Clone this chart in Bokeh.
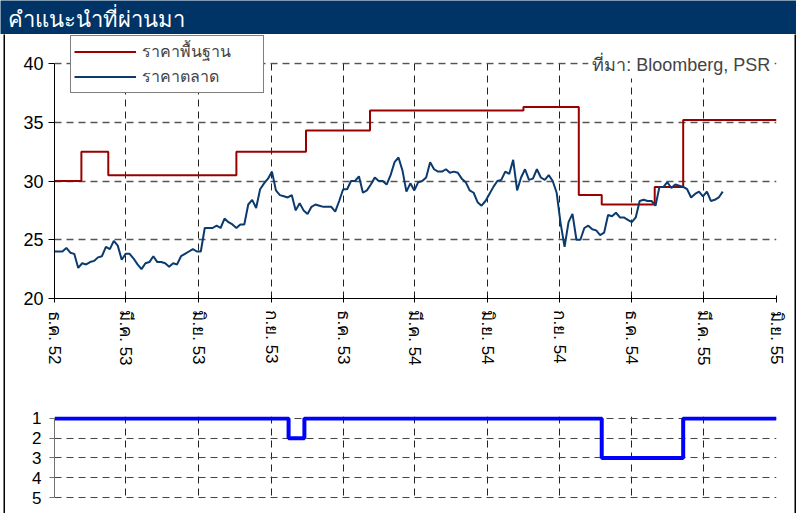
import math
import pandas as pd
from bokeh.plotting import figure
from bokeh.layouts import column, row
from bokeh.models import Range1d, FixedTicker, Legend, LegendItem, Label, BoxAnnotation
from bokeh.embed import file_html
from bokeh.resources import INLINE

# ---------------- data ----------------
title_text = "คำแนะนำที่ผ่านมา"
source_text = "ที่มา: Bloomberg, PSR"

tick_dates = ["2009-12-01", "2010-03-01", "2010-06-01", "2010-09-01", "2010-12-01",
              "2011-03-01", "2011-06-01", "2011-09-01", "2011-12-01", "2012-03-01",
              "2012-06-01"]
tick_labels = ["ธ.ค. 52", "มี.ค. 53", "มิ.ย. 53", "ก.ย. 53", "ธ.ค. 53",
               "มี.ค. 54", "มิ.ย. 54", "ก.ย. 54", "ธ.ค. 54", "มี.ค. 55",
               "มิ.ย. 55"]
price_ticks = [20, 25, 30, 35, 40]
rating_ticks = [1, 2, 3, 4, 5]

base_label = "ราคาพื้นฐาน"
base_dates = ["2009-12-01", "2010-01-04", "2010-02-07", "2010-07-19", "2010-10-15",
              "2011-01-04", "2011-07-17", "2011-09-25", "2011-10-24", "2011-12-30",
              "2012-02-04", "2012-06-01"]
base_values = [30.0, 32.5, 30.5, 32.5, 34.3, 36.0, 36.3, 28.8, 28.0, 29.5, 35.2, 35.2]

market_label = "ราคาตลาด"
market_start = "2009-12-01"
market_values = [
    24.0, 24.0, 24.0, 24.3, 23.9, 23.8, 22.6, 23.0, 22.9, 23.1,
    23.2, 23.5, 23.6, 24.4, 24.2, 24.9, 24.5, 23.3, 23.8, 23.8,
    23.4, 22.9, 22.5, 23.0, 23.1, 23.6, 23.1, 23.1, 23.0, 22.7,
    23.0, 22.9, 23.6, 23.8, 24.0, 24.2, 24.0, 24.0, 26.0, 26.0,
    26.0, 26.2, 26.0, 26.8, 26.5, 26.3, 26.0, 26.3, 26.3, 28.0,
    28.4, 27.7, 29.3, 29.8, 30.2, 30.8, 29.2, 28.8, 28.7, 28.6,
    28.8, 27.5, 28.1, 27.5, 27.2, 27.8, 28.0, 27.9, 27.8, 27.8,
    27.8, 27.4, 28.3, 29.3, 29.3, 30.0, 30.0, 30.4, 29.0, 29.2,
    29.7, 30.3, 30.0, 30.0, 29.7, 30.5, 31.6, 32.0, 30.9, 29.1,
    29.8, 29.2, 29.9, 30.0, 30.3, 31.6, 31.0, 30.8, 30.8, 31.0,
    30.7, 30.8, 30.7, 30.2, 29.9, 29.2, 29.0, 28.2, 27.9, 28.3,
    28.9, 29.5, 30.0, 30.1, 30.8, 30.6, 31.8, 29.2, 30.3, 31.0,
    30.1, 30.2, 31.0, 30.3, 30.1, 30.5, 30.0, 29.0, 26.4, 24.4,
    26.5, 27.2, 25.0, 25.0, 26.0, 26.2, 25.9, 25.8, 25.4, 25.6,
    27.1, 27.0, 27.3, 26.9, 26.9, 26.7, 26.5, 26.9, 28.3, 28.4,
    28.3, 28.3, 27.9, 29.5, 29.5, 29.9, 29.4, 29.7, 29.6, 29.5,
    29.3, 28.6, 28.9, 29.1, 28.7, 29.1, 28.3, 28.4, 28.6, 29.1,
]

rating_dates = ["2009-12-01", "2010-09-23", "2010-10-13", "2011-10-24", "2012-02-04",
                "2012-06-01"]
rating_values = [1, 2, 1, 3, 1, 1]

# ---------------- styles ----------------
NAVY = "#003366"
RED = "#990000"
BLUE = "#0B3A6E"
FONT = "Liberation Sans"
Y_TOP = 42.47   # frame extends above 40 so the legend/source text are not clipped

tick_ms = [int(pd.Timestamp(d).value // 10**6) for d in tick_dates]
x_start = pd.Timestamp(tick_dates[0])
x_end = pd.Timestamp(tick_dates[-1])


def blank(w, h, color):
    f = figure(width=w, height=h, x_range=Range1d(0, w), y_range=Range1d(0, h),
               output_backend="svg", toolbar_location=None, min_border=0,
               x_axis_location=None, y_axis_location=None)
    f.background_fill_color = color
    f.border_fill_color = color
    f.outline_line_color = None
    f.grid.visible = False
    return f


# header
header = blank(796, 34, NAVY)
header.add_layout(Label(x=7, y=15, text=title_text, text_color="white",
                        text_font=FONT, text_font_size="22px", text_baseline="middle"))

# ---------------- main chart ----------------
p = figure(width=789, height=356, x_axis_type="datetime",
           x_range=Range1d(x_start, x_end), y_range=Range1d(20, Y_TOP),
           output_backend="svg", toolbar_location=None,
           min_border_left=49, min_border_right=18, min_border_top=0,
           min_border_bottom=92)
p.outline_line_color = None
p.background_fill_color = "white"
p.border_fill_color = "white"

xt = FixedTicker(ticks=tick_ms)
p.xaxis.ticker = xt
p.xgrid.ticker = xt
p.xaxis.major_label_overrides = dict(zip(tick_ms, tick_labels))
p.xaxis.major_label_orientation = -math.pi / 2
p.xaxis.major_tick_in = 3
p.xaxis.major_tick_out = 4
p.xaxis.minor_tick_line_color = None
p.xaxis.axis_line_color = "black"
p.xaxis.major_tick_line_color = "black"
p.xaxis.major_label_text_font = FONT
p.xaxis.major_label_text_font_size = "17px"
p.xaxis.major_label_text_color = "black"
p.xaxis.major_label_standoff = 8

yt = FixedTicker(ticks=price_ticks)
p.yaxis.ticker = yt
p.ygrid.ticker = yt
p.yaxis.bounds = (20, 40)
p.yaxis.major_tick_in = 0
p.yaxis.major_tick_out = 6
p.yaxis.minor_tick_line_color = None
p.yaxis.axis_line_color = "black"
p.yaxis.major_tick_line_color = "black"
p.yaxis.major_label_text_font = FONT
p.yaxis.major_label_text_font_size = "18px"
p.yaxis.major_label_text_color = "black"
p.yaxis.major_label_standoff = 5

p.xgrid.grid_line_color = "#222222"
p.xgrid.grid_line_dash = "7 5"
p.xgrid.grid_line_width = 1
p.ygrid.grid_line_color = "#555555"
p.ygrid.grid_line_dash = "7 5"
p.ygrid.grid_line_width = 1.3

# white band hiding the grid above the 40 line
p.add_layout(BoxAnnotation(bottom=40.1, fill_color="white", fill_alpha=1,
                           line_color=None))

# step shape of the base-price series, built from its change dates
bx, by = [], []
for i in range(len(base_values) - 1):
    bx += [pd.Timestamp(base_dates[i]), pd.Timestamp(base_dates[i + 1])]
    by += [base_values[i], base_values[i]]
bx.append(pd.Timestamp(base_dates[-1]))
by.append(base_values[-1])
r_base = p.line(x=bx, y=by, line_color=RED, line_width=2)

market_dates = pd.date_range(market_start, periods=len(market_values), freq="5D")
r_market = p.line(x=market_dates, y=market_values, line_color=BLUE, line_width=2)

legend = Legend(items=[LegendItem(label=base_label, renderers=[r_base]),
                       LegendItem(label=market_label, renderers=[r_market])],
                location=(16, 205), orientation="vertical",
                border_line_color="black", border_line_width=1,
                background_fill_color="white", background_fill_alpha=1,
                padding=3, spacing=0, margin=0,
                glyph_width=62, glyph_height=15, label_height=15,
                label_width=118, label_standoff=6, label_text_font=FONT,
                label_text_font_size="16px")
p.add_layout(legend)

src_x = int(pd.Timestamp("2011-10-07").value // 10**6)
p.add_layout(Label(x=src_x, y=39.91, text=source_text, text_font=FONT,
                   text_font_size="18px", text_baseline="middle",
                   background_fill_color="white", padding=4))

# ---------------- rating chart ----------------
q = figure(width=789, height=123, x_axis_type="datetime",
           x_range=Range1d(x_start, x_end), y_range=Range1d(5.05, 0.9),
           output_backend="svg", toolbar_location=None,
           min_border_left=47, min_border_right=15, min_border_top=26,
           min_border_bottom=15)
q.outline_line_color = None
q.background_fill_color = "white"
q.border_fill_color = "white"
q.xaxis.visible = False
q.xgrid.ticker = FixedTicker(ticks=tick_ms)
q.xgrid.grid_line_color = "#222222"
q.xgrid.grid_line_dash = "7 5"
rt = FixedTicker(ticks=rating_ticks)
q.yaxis.ticker = rt
q.ygrid.ticker = rt
q.yaxis.bounds = (1, 5)
q.yaxis.axis_line_color = "#707070"
q.yaxis.major_tick_line_color = "#707070"
q.yaxis.major_tick_in = 0
q.yaxis.major_tick_out = 5
q.yaxis.minor_tick_line_color = None
q.yaxis.major_label_text_font = FONT
q.yaxis.major_label_text_font_size = "17px"
q.yaxis.major_label_text_color = "black"
q.yaxis.major_label_standoff = 8
q.ygrid.grid_line_color = "#444444"
q.ygrid.grid_line_dash = "7 5"

q.step(x=pd.to_datetime(rating_dates), y=rating_values, mode="after",
       line_color="#0000FF", line_width=4)

# ---------------- frame & layout ----------------
left_gap = blank(3, 479, "white")
left_strip = blank(2, 479, "black")
right_strip = blank(2, 479, "black")
bottom_strip = blank(796, 2, "black")

layout = column(header,
                row(left_gap, left_strip, column(p, q), right_strip),
                bottom_strip)

open("out.html", "w").write(file_html(layout, INLINE))
